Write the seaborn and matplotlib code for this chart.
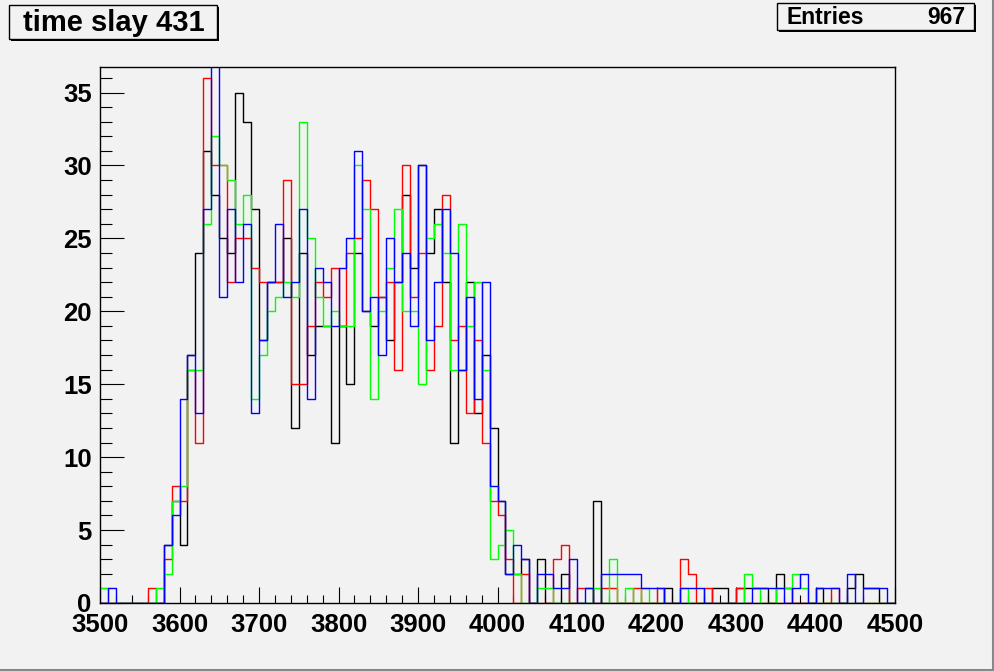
import numpy as np
import pandas as pd
import matplotlib
matplotlib.use("Agg")
import matplotlib.pyplot as plt
from matplotlib.patches import Rectangle
from matplotlib.lines import Line2D
import seaborn as sns

# histogram binning: 100 bins of width 10 between 3500 and 4500
edges = list(range(3500, 4501, 10))
centers = [e + 5 for e in edges[:-1]]

# bin contents, one list per histogram (bins 3500..4490)
black = [0, 0, 0, 0, 0, 0, 0, 0, 4, 7,
         4, 17, 24, 31, 28, 25, 24, 35, 33, 27,
         18, 22, 22, 25, 12, 24, 17, 19, 19, 11,
         19, 15, 24, 20, 19, 21, 18, 22, 28, 23,
         30, 24, 27, 22, 11, 16, 22, 13, 17, 12,
         7, 2, 2, 3, 0, 3, 0, 0, 2, 0,
         0, 0, 7, 0, 0, 0, 0, 0, 0, 0,
         0, 1, 0, 0, 0, 0, 0, 1, 1, 0,
         1, 1, 1, 1, 0, 2, 1, 0, 0, 0,
         1, 0, 0, 0, 1, 2, 1, 1, 0, 0]
red = [0, 0, 0, 0, 0, 0, 1, 0, 3, 8,
       7, 16, 11, 36, 30, 30, 22, 25, 25, 23,
       22, 22, 22, 29, 15, 15, 19, 22, 21, 23,
       19, 24, 25, 29, 27, 21, 22, 16, 30, 21,
       24, 16, 19, 28, 18, 19, 13, 18, 11, 7,
       6, 3, 0, 2, 0, 0, 0, 3, 4, 0,
       1, 1, 0, 1, 1, 0, 0, 1, 0, 0,
       1, 0, 0, 3, 2, 0, 1, 0, 0, 0,
       1, 0, 0, 0, 0, 0, 0, 0, 0, 0,
       0, 0, 1, 0, 0, 0, 0, 0, 0, 0]
green = [1, 0, 0, 0, 0, 0, 0, 1, 2, 7,
         8, 16, 16, 26, 32, 30, 29, 26, 28, 14,
         17, 20, 21, 22, 21, 33, 25, 21, 19, 20,
         19, 19, 30, 27, 14, 20, 23, 27, 20, 20,
         15, 25, 26, 24, 16, 26, 19, 22, 16, 3,
         4, 5, 2, 0, 0, 1, 1, 0, 0, 0,
         0, 0, 1, 0, 3, 0, 1, 0, 1, 0,
         0, 0, 0, 1, 0, 0, 0, 0, 0, 0,
         0, 2, 1, 0, 0, 1, 1, 2, 1, 0,
         0, 0, 0, 0, 0, 0, 0, 0, 0, 0]
blue = [0, 1, 0, 0, 0, 0, 0, 0, 4, 6,
        14, 17, 13, 27, 38, 21, 27, 22, 26, 13,
        18, 22, 26, 21, 22, 27, 14, 23, 22, 19,
        23, 25, 31, 20, 21, 17, 25, 22, 24, 19,
        30, 18, 22, 27, 24, 16, 21, 14, 22, 8,
        7, 2, 4, 3, 0, 2, 2, 1, 1, 3,
        0, 1, 0, 2, 2, 2, 2, 2, 1, 1,
        1, 0, 0, 1, 1, 1, 0, 0, 0, 0,
        0, 0, 1, 1, 1, 1, 0, 1, 2, 0,
        1, 1, 1, 0, 2, 0, 1, 1, 1, 0]

series = [("black", black, "#000000"), ("red", red, "#ff0000"),
          ("green", green, "#00ff00"), ("blue", blue, "#0000ff")]

title = "time slay 431"
entries = 967

bg = "#f2f2f2"
plt.rcParams["font.family"] = ["Liberation Sans", "DejaVu Sans"]
plt.rcParams["font.weight"] = "bold"

fig = plt.figure(figsize=(9.95, 6.71), dpi=100, facecolor=bg)
W, H = 995, 671
ax = fig.add_axes([100 / W, (H - 603) / H, 795 / W, 536 / H], facecolor=bg)

for name, vals, col in series:
    df = pd.DataFrame({"time": centers, "count": vals})
    sns.histplot(data=df, x="time", weights="count", bins=edges, element="step",
                 fill=False, color=col, linewidth=1.0, ax=ax)

ax.set_xlim(3500, 4500)
ax.set_ylim(0, 36.75)
ax.set_xlabel("")
ax.set_ylabel("")
ax.set_xticks(np.arange(3500, 4501, 100))
ax.set_xticks(np.arange(3500, 4501, 20), minor=True)
ax.set_yticks(np.arange(0, 36, 5))
ax.set_yticks(np.arange(0, 37, 1), minor=True)
for s in ax.spines.values():
    s.set_linewidth(1.0)
    s.set_color("black")
ax.tick_params(axis="x", which="major", direction="in", length=11.5, width=0.8,
               labelsize=18.5, pad=7.5, top=False)
ax.tick_params(axis="x", which="minor", direction="in", length=5.8, width=0.8, top=False)
ax.tick_params(axis="y", which="major", direction="in", length=17.3, width=0.8,
               labelsize=18.5, pad=6, right=False)
ax.tick_params(axis="y", which="minor", direction="in", length=8.6, width=0.8, right=False)
for lab in ax.get_xticklabels() + ax.get_yticklabels():
    lab.set_fontweight("bold")


def px_box(x0, y0, x1, y1, shadow=3):
    # box with ROOT-like drop shadow, given in pixel coordinates (top-left origin)
    sh = Rectangle(((x0 + shadow) / W, 1 - (y1 + shadow) / H), (x1 - x0) / W, (y1 - y0) / H,
                   transform=fig.transFigure, facecolor="black", edgecolor="none")
    bx = Rectangle((x0 / W, 1 - y1 / H), (x1 - x0) / W, (y1 - y0) / H,
                   transform=fig.transFigure, facecolor=bg, edgecolor="black", linewidth=1.0)
    fig.patches.extend([sh, bx])


px_box(9, 5, 217, 39, shadow=2)
fig.text(114 / W, 1 - 23 / H, title, ha="center", va="center", fontsize=21,
         fontweight="bold")

px_box(777, 3, 974, 30, shadow=2)
fig.text(787 / W, 1 - 18 / H, "Entries", ha="left", va="center", fontsize=16.5,
         fontweight="bold")
fig.text(965 / W, 1 - 18 / H, str(entries), ha="right", va="center", fontsize=16.5,
         fontweight="bold")

# canvas bevel on the right and bottom edges
fig.lines.append(Line2D([993.5 / W, 993.5 / W], [0, 1], transform=fig.transFigure,
                        color="#888888", linewidth=1.5))
fig.lines.append(Line2D([0, 1], [1 - 669.5 / H, 1 - 669.5 / H], transform=fig.transFigure,
                        color="#888888", linewidth=1.5))

fig.savefig("out.png", dpi=100, facecolor=bg)
